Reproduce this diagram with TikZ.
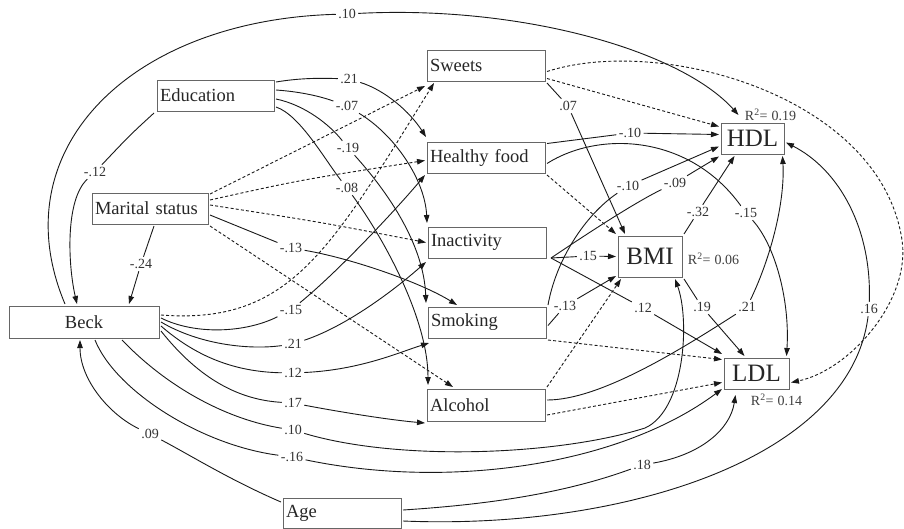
\documentclass[tikz,border=0pt]{standalone}
\usepackage{fontspec}
\setmainfont{Liberation Serif}
\usetikzlibrary{arrows.meta}
\begin{document}
\begin{tikzpicture}[x=1pt,y=-1pt,
  box/.style={draw=black!60,line width=0.8pt,rectangle,inner xsep=3pt,inner ysep=0pt,outer sep=2pt,
    text=black!85,font=\fontsize{18.5}{20}\selectfont,align=left},
  outbox/.style={draw=black!60,line width=0.8pt,rectangle,inner sep=0pt,outer sep=2pt,
    text=black!85,font=\fontsize{25}{27}\selectfont},
  coef/.style={inner sep=1pt,outer sep=1.5pt,text=black!80,font=\fontsize{14}{15}\selectfont},
  rsq/.style={inner sep=0pt,text=black!75,font=\fontsize{14}{15}\selectfont},
  link/.style={line width=0.9pt,draw=black!90},
  arr/.style={link,-{Triangle[length=8pt,width=5.5pt]}},
  dlink/.style={link,dash pattern=on 3pt off 2.2pt},
  darr/.style={arr,dash pattern=on 3pt off 2.2pt},
]
\useasboundingbox (0,0) rectangle (904,528);
\fill[white] (0,0) rectangle (904,528);

% ---------- variables ----------
\node[box,text width=111pt,minimum height=31pt] (edu) at (215.5,95.5) {Education};
\node[box,text width=110pt,minimum height=31pt] (mar) at (150,208.5) {Marital status};
\node[box,minimum width=150pt,minimum height=32pt] (beck) at (84,322) {Beck};
\node[box,text width=112pt,minimum height=31pt] (sweets) at (486,65.5) {Sweets};
\node[box,text width=112pt,minimum height=31pt] (healthy) at (486,157.5) {Healthy food};
\node[box,text width=112pt,minimum height=31pt] (inact) at (487,242.5) {Inactivity};
\node[box,text width=112pt,minimum height=31pt] (smoke) at (487,322.5) {Smoking};
\node[box,text width=112pt,minimum height=32pt] (alc) at (486,405) {Alcohol};
\node[box,text width=112pt,minimum height=30pt] (age) at (342,513) {Age};
\node[outbox,minimum width=63pt,minimum height=31pt] (hdl) at (752.5,138.5) {HDL};
\node[outbox,minimum width=64pt,minimum height=41pt] (bmi) at (650,256.5) {BMI};
\node[outbox,minimum width=65pt,minimum height=31pt] (ldl) at (756.5,373.5) {LDL};

% ---------- explained variance ----------
\node[rsq] (rh) at (770.5,115) {R\textsuperscript{2}=\hspace{4pt}0.19};
\node[rsq] (rb) at (713.5,259) {R\textsuperscript{2}=\hspace{4pt}0.06};
\node[rsq] (rl) at (776.5,400) {R\textsuperscript{2}=\hspace{4pt}0.14};

% ---------- path coefficients ----------
\node[coef] (bh) at (347,14) {.10};
\node[coef] (eb) at (95,172) {-.12};
\node[coef] (mb) at (141,264) {-.24};
\node[coef] (eh) at (349,79) {.21};
\node[coef] (ei) at (347,106) {-.07};
\node[coef] (es) at (348,148) {-.19};
\node[coef] (ea) at (347,188) {-.08};
\node[coef] (ms) at (291,248) {-.13};
\node[coef] (bhf) at (291,310) {-.15};
\node[coef] (bi) at (293,344) {.21};
\node[coef] (bs) at (293,373) {.12};
\node[coef] (ba) at (293,403) {.17};
\node[coef] (bbmi) at (293,430) {.10};
\node[coef] (bl) at (292,457) {-.16};
\node[coef] (ab) at (150,434) {.09};
\node[coef] (al) at (642,465) {.18};
\node[coef] (ah) at (869,309) {.16};
\node[coef] (swb) at (568,106) {.07};
\node[coef] (hfh) at (630,133) {-.10};
\node[coef] (smh) at (628,186) {-.10};
\node[coef] (inh) at (675,183) {-.09};
\node[coef] (bmh) at (698,212) {-.32};
\node[coef] (hfl) at (746,213) {-.15};
\node[coef] (inb) at (588,256) {.15};
\node[coef] (smb) at (565,306) {-.13};
\node[coef] (inl) at (643,308) {.12};
\node[coef] (bml) at (702,307) {.19};
\node[coef] (alh) at (747,307) {.21};

% ---------- Beck -> HDL over the top ----------
\draw[link] ([xshift=-19pt]beck.north) .. controls (0,150) and (130,20) .. (bh);
\draw[arr] (bh) .. controls (520,5) and (680,50) .. ([xshift=-14pt,yshift=6pt]hdl.north);

% ---------- paths into Beck ----------
\draw[link] ([xshift=-1pt]edu.south west) .. controls (130,135) .. (eb);
\draw[arr] (eb) .. controls (65,200) and (68,265) .. ([xshift=-7pt]beck.north);
\draw[link] ([xshift=4pt]mar.south) -- (mb);
\draw[arr] (mb) -- ([xshift=45pt]beck.north);

% ---------- Education -> behaviours ----------
\draw[link] ([yshift=-4pt]edu.north east) .. controls (300,78) and (320,78) .. (eh);
\draw[arr] (eh) .. controls (385,90) and (410,112) .. ([xshift=1pt,yshift=3pt]healthy.north west);
\draw[link] ([yshift=-12pt]edu.north east) .. controls (305,92) and (325,98) .. (ei);
\draw[arr] (ei) .. controls (395,135) and (425,180) .. ([xshift=1pt,yshift=2pt]inact.north west);
\draw[link] ([yshift=-21pt]edu.north east) .. controls (305,105) and (330,125) .. (es);
\draw[arr] (es) .. controls (395,200) and (424,250) .. ([yshift=2pt]smoke.north west);
\draw[link] ([yshift=-29pt]edu.north east) .. controls (300,115) and (325,160) .. (ea);
\draw[arr] (ea) .. controls (385,240) and (428,320) .. ([xshift=3pt,yshift=2pt]alc.north west);

% ---------- Marital status -> behaviours ----------
\draw[darr] ([yshift=-3pt]mar.north east) -- ([yshift=-3pt]sweets.south west);
\draw[darr] ([yshift=-9pt]mar.north east) .. controls (300,180) .. ([yshift=-3pt]healthy.west);
\draw[darr] ([yshift=-14pt]mar.north east) .. controls (320,222) .. (inact.west);
\draw[link] ([yshift=-24pt]mar.north east) -- (ms);
\draw[arr] (ms) .. controls (350,258) and (420,282) .. ([xshift=-30pt]smoke.north);
\draw[darr] (mar.south east) -- ([xshift=-33pt]alc.north);

% ---------- Beck -> behaviours and outcomes ----------
\draw[darr] ([yshift=7pt]beck.east) .. controls (290,325) and (330,250) .. ([xshift=9pt]sweets.south west);
\draw[link] ([yshift=4pt]beck.east) .. controls (195,335) and (245,333) .. (bhf);
\draw[arr] (bhf) .. controls (340,270) and (400,205) .. (healthy.south west);
\draw[link] (beck.east) .. controls (200,345) and (250,350) .. (bi);
\draw[arr] (bi) .. controls (350,325) and (400,285) .. ([yshift=-2pt]inact.south west);
\draw[link] ([yshift=-4pt]beck.east) .. controls (200,360) and (240,372) .. (bs);
\draw[arr] (bs) .. controls (360,370) and (400,352) .. ([xshift=3pt,yshift=-3pt]smoke.south west);
\draw[link] ([yshift=-9pt]beck.east) .. controls (200,380) and (240,400) .. (ba);
\draw[arr] (ba) .. controls (340,412) and (390,420) .. (alc.south west);
\draw[link] ([xshift=38pt]beck.south) .. controls (170,390) and (230,420) .. (bbmi);
\draw[arr] (bbmi) .. controls (400,462) and (560,455) .. (645,428)
  .. controls (685,410) and (690,320) .. ([xshift=25pt]bmi.south);
\draw[link] ([xshift=11pt]beck.south) .. controls (115,390) and (200,445) .. (bl);
\draw[arr] (bl) .. controls (450,490) and (620,465) .. ([yshift=2pt]ldl.south west);

% ---------- Age ----------
\draw[link] ([yshift=11pt]age.west) .. controls (230,480) and (190,455) .. (ab);
\draw[arr] (ab) .. controls (110,415) and (80,380) .. ([xshift=-4pt]beck.south);
\draw[link] ([yshift=3pt]age.east) .. controls (480,505) and (560,495) .. (al);
\draw[arr] (al) .. controls (700,455) and (730,430) .. ([xshift=-21pt,yshift=-4pt]ldl.south);
\draw[link] ([yshift=-8pt]age.east) .. controls (620,530) and (850,460) .. (ah);
\draw[arr] (ah) .. controls (872,230) and (840,170) .. ([yshift=-4pt]hdl.east);

% ---------- Sweets ----------
\draw[darr] ([yshift=-13pt]sweets.east) -- ([yshift=12pt]hdl.west);
\draw[link] (sweets.south east) -- (swb);
\draw[arr] (swb) -- ([xshift=-25pt]bmi.north);
\draw[darr] ([yshift=-6pt]sweets.east) .. controls (660,35) and (880,95) .. (902,240)
  .. controls (911,300) and (850,370) .. ([yshift=-9pt]ldl.east);

% ---------- Healthy food ----------
\draw[link] ([yshift=14pt]healthy.east) -- (hfh);
\draw[arr] (hfh) -- ([yshift=4pt]hdl.west);
\draw[link] ([yshift=-6pt]healthy.east) .. controls (600,130) and (690,135) .. (hfl);
\draw[arr] (hfl) .. controls (775,245) and (790,300) .. ([xshift=30pt]ldl.north);
\draw[darr] (healthy.south east) -- (bmi.north west);

% ---------- Inactivity ----------
\coordinate (iv) at ([xshift=3pt,yshift=2pt]inact.south east);
\draw[link] (iv) .. controls (600,225) and (640,200) .. (inh);
\draw[arr] (inh) -- ([yshift=-18pt]hdl.west);
\draw[link] (iv) -- (inb);
\draw[arr] (inb) -- (bmi.west);
\draw[link] (iv) -- (inl);
\draw[arr] (inl) -- ([yshift=2pt]ldl.north west);

% ---------- Smoking ----------
\draw[link] (smoke.north east) .. controls (556,260) and (585,215) .. (smh);
\draw[arr] (smh) -- ([yshift=-8pt]hdl.west);
\draw[link] ([yshift=-3pt]smoke.east) -- (smb);
\draw[arr] (smb) -- ([yshift=3pt]bmi.south west);
\draw[darr] (smoke.south east) -- ([yshift=14pt]ldl.west);

% ---------- Alcohol ----------
\draw[darr] (alc.north east) -- ([xshift=5pt]bmi.south west);
\draw[darr] ([yshift=-10pt]alc.east) -- ([yshift=-9pt]ldl.west);
\draw[link] ([yshift=5pt]alc.east) .. controls (600,400) and (680,350) .. (alh);
\draw[arr] (alh) .. controls (772,255) and (785,200) .. ([xshift=30pt]hdl.south);

% ---------- BMI -> lipids ----------
\draw[link] (bmi.north east) -- (bmh);
\draw[arr] (bmh) -- ([xshift=-18pt]hdl.south);
\draw[link] (bmi.south east) -- (bml);
\draw[arr] (bml) -- ([xshift=-12pt]ldl.north);
\end{tikzpicture}
\end{document}
